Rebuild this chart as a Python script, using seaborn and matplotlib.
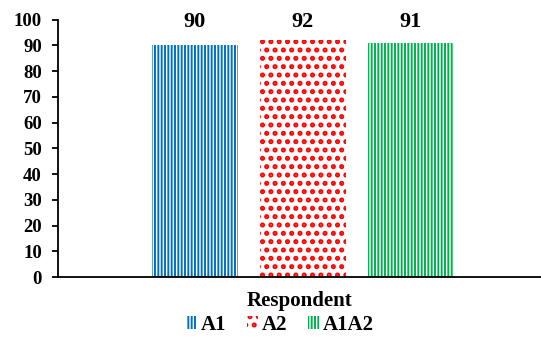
import matplotlib
matplotlib.use("Agg")
import matplotlib.pyplot as plt
import seaborn as sns
import pandas as pd
from matplotlib.patches import Patch

categories = ["Respondent"]
series = ["A1", "A2", "A1A2"]
values = [90, 92, 91]
yticks = [0, 10, 20, 30, 40, 50, 60, 70, 80, 90, 100]

colors = ["#0070C0", "#FF0000", "#00B050"]
hatches = ["|||||", "..", "|||||"]
hatch_lw = [1.4, 2.4, 1.4]

sns.set_theme(style="white")
plt.rcParams["font.family"] = ["Liberation Serif", "DejaVu Serif"]
plt.rcParams["font.weight"] = "bold"
plt.rcParams["text.color"] = "black"
plt.rcParams["xtick.color"] = "black"
plt.rcParams["ytick.color"] = "black"
plt.rcParams["axes.labelcolor"] = "black"
plt.rcParams["hatch.linewidth"] = 1.4

df = pd.DataFrame({"cat": categories * len(series), "series": series, "value": values})

fig = plt.figure(figsize=(5.41, 3.38), dpi=100)
ax = fig.add_axes([0.107, 0.180, 0.893, 0.762])

sns.barplot(data=df, x="cat", y="value", hue="series", hue_order=series,
            palette=colors, gap=0.2, ax=ax, legend=False)


def style_patch(p, c, h, lw):
    p.set_facecolor("white")
    p.set_edgecolor(c)
    p.set_hatch(h)
    p.set_linewidth(0)
    p._hatch_color = matplotlib.colors.to_rgba(c)
    if hasattr(p, "set_hatch_linewidth"):
        p.set_hatch_linewidth(lw)


for p, c, h, lw in zip(ax.patches, colors, hatches, hatch_lw):
    style_patch(p, c, h, lw)
    ax.text(p.get_x() + p.get_width() / 2, 99.2, f"{int(p.get_height())}",
            ha="center", va="center", fontsize=16, fontweight="bold", color="black")

ax.set_ylim(0, 100)
ax.set_xlim(-0.605, 0.588)
ax.set_yticks(yticks)
ax.set_yticklabels([str(t) for t in yticks], fontsize=13.5, fontweight="bold")
ax.set_xticks([])
ax.set_xlabel("Respondent", fontsize=15, fontweight="bold", labelpad=10, color="black")
ax.set_ylabel("")
sns.despine(ax=ax)
for s in ("left", "bottom"):
    ax.spines[s].set_color("black")
    ax.spines[s].set_linewidth(1.3)
ax.tick_params(axis="y", direction="out", length=4.5, width=1.3, color="black",
               labelcolor="black", left=True, pad=7)

handles = [Patch(facecolor="white", edgecolor=c, hatch=h, linewidth=0) for c, h in zip(colors, hatches)]
leg = fig.legend(handles, series, loc="center", bbox_to_anchor=(0.517, 0.038), ncol=3,
                 frameon=False, handlelength=0.55, handleheight=0.6, handletextpad=0.15,
                 columnspacing=1.0, borderaxespad=0, borderpad=0,
                 prop={"size": 15, "weight": "bold"})
for hp, c, h, lw in zip(leg.legend_handles, colors, hatches, hatch_lw):
    style_patch(hp, c, h, lw)
for t in leg.get_texts():
    t.set_color("black")

fig.savefig("out.png", dpi=100)
